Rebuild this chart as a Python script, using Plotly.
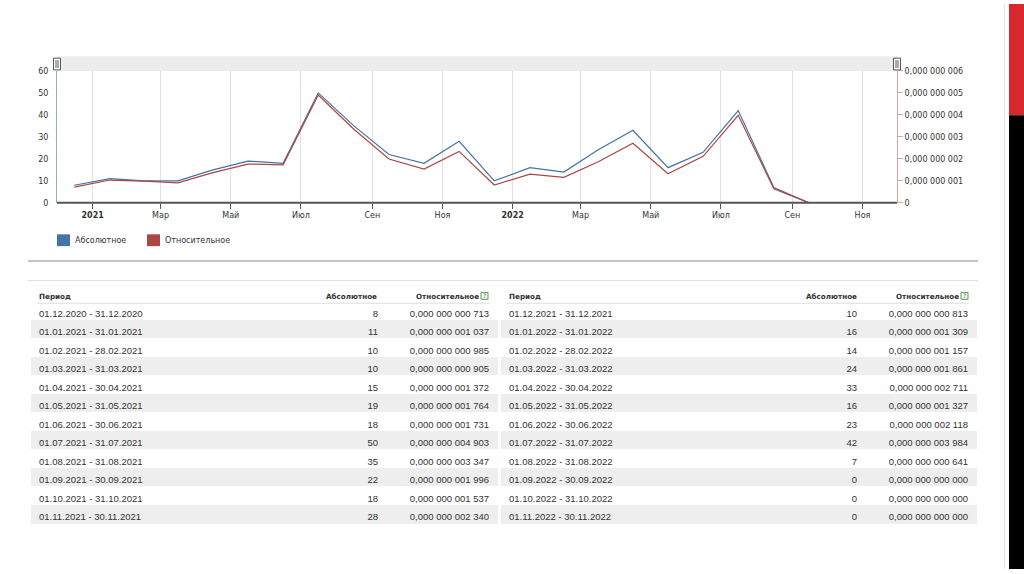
import plotly.graph_objects as go
from datetime import datetime

# ---------------- data ----------------
periods = [
    "01.12.2020 - 31.12.2020", "01.01.2021 - 31.01.2021", "01.02.2021 - 28.02.2021",
    "01.03.2021 - 31.03.2021", "01.04.2021 - 30.04.2021", "01.05.2021 - 31.05.2021",
    "01.06.2021 - 30.06.2021", "01.07.2021 - 31.07.2021", "01.08.2021 - 31.08.2021",
    "01.09.2021 - 30.09.2021", "01.10.2021 - 31.10.2021", "01.11.2021 - 30.11.2021",
    "01.12.2021 - 31.12.2021", "01.01.2022 - 31.01.2022", "01.02.2022 - 28.02.2022",
    "01.03.2022 - 31.03.2022", "01.04.2022 - 30.04.2022", "01.05.2022 - 31.05.2022",
    "01.06.2022 - 30.06.2022", "01.07.2022 - 31.07.2022", "01.08.2022 - 31.08.2022",
    "01.09.2022 - 30.09.2022", "01.10.2022 - 31.10.2022", "01.11.2022 - 30.11.2022",
]
absolute = [8, 11, 10, 10, 15, 19, 18, 50, 35, 22, 18, 28,
            10, 16, 14, 24, 33, 16, 23, 42, 7, 0, 0, 0]
relative = [0.000000000713, 0.000000001037, 0.000000000985, 0.000000000905,
            0.000000001372, 0.000000001764, 0.000000001731, 0.000000004903,
            0.000000003347, 0.000000001996, 0.000000001537, 0.000000002340,
            0.000000000813, 0.000000001309, 0.000000001157, 0.000000001861,
            0.000000002711, 0.000000001327, 0.000000002118, 0.000000003984,
            0.000000000641, 0.0, 0.0, 0.0]

x_tickvals = ["2021-01-01", "2021-03-01", "2021-05-01", "2021-07-01", "2021-09-01", "2021-11-01",
              "2022-01-01", "2022-03-01", "2022-05-01", "2022-07-01", "2022-09-01", "2022-11-01"]
x_ticktext = ["<b>2021</b>", "Мар", "Май", "Июл", "Сен", "Ноя",
              "<b>2022</b>", "Мар", "Май", "Июл", "Сен", "Ноя"]
y2_tickvals = [0, 1e-9, 2e-9, 3e-9, 4e-9, 5e-9, 6e-9]
y2_ticktext = ["0", "0,000 000 001", "0,000 000 002", "0,000 000 003",
               "0,000 000 004", "0,000 000 005", "0,000 000 006"]
headers = ["Период", "Абсолютное", "Относительное"]
legend_names = ["Абсолютное", "Относительное"]

# ---------------- helpers ----------------
W, H = 1024, 574
BLUE, RED = "#4572A7", "#AA4643"


def px(x):
    return x / W


def py(y):
    return 1 - y / H


def mid_date(p):
    a, b = [datetime.strptime(s.strip(), "%d.%m.%Y") for s in p.split("-")]
    return a + (b - a) / 2


def fmt_rel(v):
    s = f"{v:.12f}"
    ip, dp = s.split(".")
    return ip + "," + " ".join(dp[i:i + 3] for i in range(0, 12, 3))


dates = [mid_date(p) for p in periods]

fig = go.Figure()
fig.add_trace(go.Scatter(x=dates, y=absolute, mode="lines", name=legend_names[0],
                         line=dict(color=BLUE, width=1.2), showlegend=False))
fig.add_trace(go.Scatter(x=dates, y=relative, mode="lines", name=legend_names[1], yaxis="y2",
                         line=dict(color=RED, width=1.2), showlegend=False))

# tables (header text drawn as annotations below; the empty header band sits above row 1)
row_fill = ["#ffffff", "#eeeeee"] * 6
table_specs = [(31, 497, [272, 86, 112]), (501, 976, [274, 90, 111])]
for i, (x0, x1, widths) in enumerate(table_specs):
    sl = slice(12 * i, 12 * (i + 1))
    fig.add_trace(go.Table(
        domain=dict(x=[px(x0), px(x1)], y=[0.0, py(286)]),
        columnwidth=widths,
        header=dict(values=None, height=0, fill_color="rgba(0,0,0,0)",
                    line=dict(color="rgba(0,0,0,0)", width=0)),
        cells=dict(values=[periods[sl], [str(v) for v in absolute[sl]],
                           [fmt_rel(v) for v in relative[sl]]],
                   align=["left", "right", "right"],
                   fill_color=[row_fill] * 3, line=dict(color=[row_fill] * 3, width=1),
                   font=dict(family="Liberation Sans", size=9.5, color="#333"), height=18.5),
    ))

shapes = []
# navigator band
shapes.append(dict(type="rect", xref="paper", yref="paper", x0=px(57), x1=px(897),
                   y0=py(68), y1=py(53), fillcolor="#ececec", line=dict(width=0), layer="below"))
for hx in (57, 897):
    shapes.append(dict(type="rect", xref="paper", yref="paper", x0=px(hx - 3.5), x1=px(hx + 3.5),
                       y0=py(67), y1=py(55), fillcolor="white", line=dict(color="#555", width=1)))
    for dx in (-1, 1):
        shapes.append(dict(type="line", xref="paper", yref="paper", x0=px(hx + dx), x1=px(hx + dx),
                           y0=py(65), y1=py(57), line=dict(color="#555", width=1)))
# x axis baseline (drawn above the traces)
shapes.append(dict(type="line", xref="paper", yref="paper", x0=px(57), x1=px(897),
                   y0=py(202), y1=py(202), line=dict(color="#555", width=2)))
# legend squares
for lx, col in ((57, BLUE), (147, RED)):
    shapes.append(dict(type="rect", xref="paper", yref="paper", x0=px(lx), x1=px(lx + 13),
                       y0=py(246), y1=py(234), fillcolor=col, line=dict(width=0)))
# separators
shapes.append(dict(type="line", xref="paper", yref="paper", x0=px(28), x1=px(978),
                   y0=py(261), y1=py(261), line=dict(color="#c4c4c4", width=2)))
shapes.append(dict(type="line", xref="paper", yref="paper", x0=px(28), x1=px(978),
                   y0=py(281), y1=py(281), line=dict(color="#dedede", width=1)))
# header underlines
for a, b in ((37, 490), (507, 969)):
    shapes.append(dict(type="line", xref="paper", yref="paper", x0=px(a), x1=px(b),
                       y0=py(304), y1=py(304), line=dict(color="#dddddd", width=1)))
# help icons
for ix in (481, 961):
    shapes.append(dict(type="rect", xref="paper", yref="paper", x0=px(ix), x1=px(ix + 7),
                       y0=py(300), y1=py(293), fillcolor="#eef6ee", line=dict(color="#5a9a5a", width=1)))
# right slide decoration
shapes.append(dict(type="line", xref="paper", yref="paper", x0=px(1004.5), x1=px(1004.5),
                   y0=0, y1=1, line=dict(color="#e4e4e4", width=1)))
shapes.append(dict(type="rect", xref="paper", yref="paper", x0=px(1009), x1=1,
                   y0=py(113), y1=1, fillcolor="#d7282f", line=dict(width=0)))
shapes.append(dict(type="rect", xref="paper", yref="paper", x0=px(1009), x1=1,
                   y0=0, y1=py(113), fillcolor="#000000", line=dict(width=0)))

annotations = []
for lx, name in ((73, legend_names[0]), (163, legend_names[1])):
    annotations.append(dict(xref="paper", yref="paper", x=px(lx), y=py(240), text=name,
                            showarrow=False, xanchor="left", yanchor="middle",
                            font=dict(family="DejaVu Sans", size=8, color="#333")))
hfont = dict(family="DejaVu Sans", size=7.2, color="#333")
for hx, anchor, txt in [(38, "left", headers[0]), (378, "right", headers[1]), (480, "right", headers[2]),
                        (508, "left", headers[0]), (858, "right", headers[1]), (960, "right", headers[2])]:
    annotations.append(dict(xref="paper", yref="paper", x=px(hx), y=py(297), text=f"<b>{txt}</b>",
                            showarrow=False, xanchor=anchor, yanchor="middle", font=hfont,
                            xshift=1 if anchor == "right" else -1))
for ix in (481, 961):
    annotations.append(dict(xref="paper", yref="paper", x=px(ix + 3.5), y=py(296.5), text="?",
                            showarrow=False, xanchor="center", yanchor="middle",
                            font=dict(family="DejaVu Sans", size=6, color="#3a7a3a")))

tickfont = dict(family="DejaVu Sans", size=8, color="#333")
fig.update_layout(
    width=W, height=H, margin=dict(l=0, r=0, t=0, b=0),
    paper_bgcolor="white", plot_bgcolor="white", showlegend=False,
    xaxis=dict(domain=[px(57), px(897)], range=["2020-12-01", "2022-12-01"],
               tickvals=x_tickvals, ticktext=x_ticktext, showgrid=True, gridcolor="#e2e2e2",
               showline=False, ticks="outside", ticklen=5,
               tickcolor="#555", tickfont=tickfont, zeroline=False, anchor="y"),
    yaxis=dict(domain=[py(202), py(68)], range=[0, 60], dtick=10, showgrid=False, zeroline=False,
               showline=True, linecolor="#8fa9cf", linewidth=1, ticks="", tickfont=tickfont,
               ticklabelstandoff=6),
    yaxis2=dict(overlaying="y", side="right", range=[0, 6e-9], tickvals=y2_tickvals,
                ticktext=y2_ticktext, showgrid=False, zeroline=False, showline=True,
                linecolor="#d8a4a4", linewidth=1, ticks="outside", ticklen=5, tickcolor="#d8a4a4",
                tickfont=tickfont, anchor="x"),
    shapes=shapes, annotations=annotations,
)

fig.write_html(
    "out.html", config={"displayModeBar": False},
    post_script=("document.body.style.margin='0';"
                 "document.body.style.overflow='hidden';"
                 "document.documentElement.style.overflow='hidden';"),
)
